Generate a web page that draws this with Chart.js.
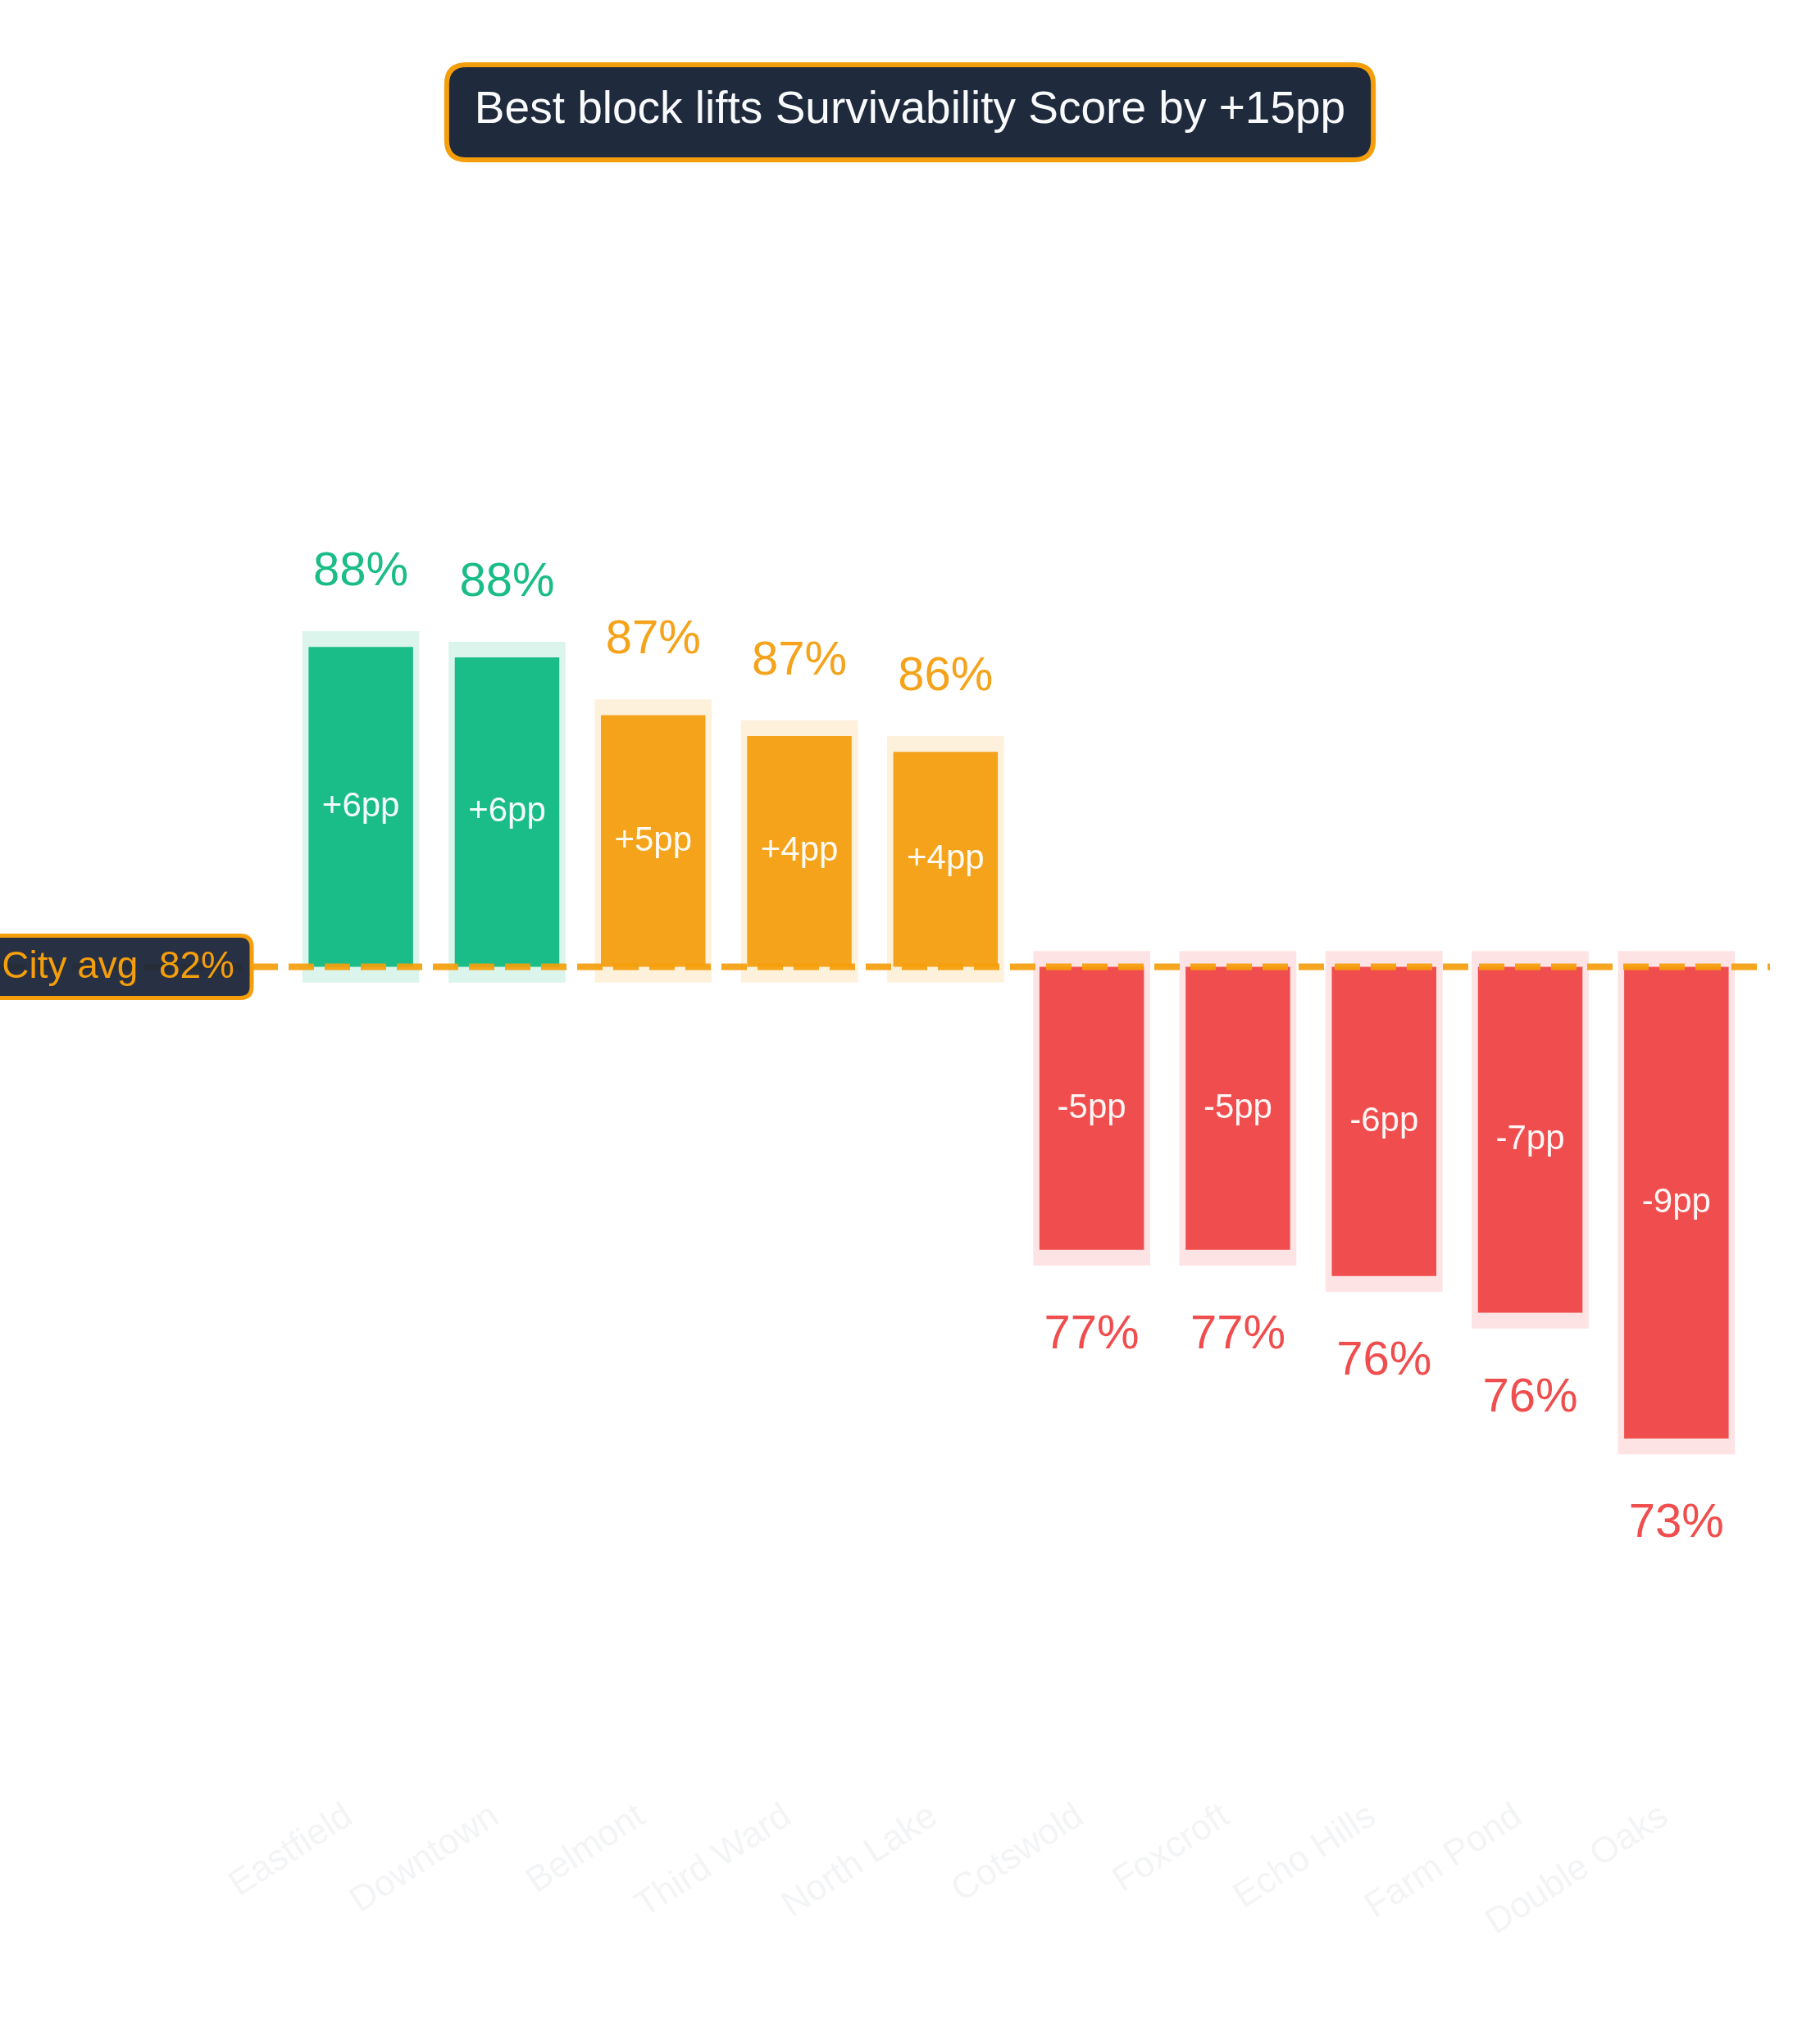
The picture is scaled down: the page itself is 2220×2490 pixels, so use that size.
<!DOCTYPE html>
<html>
<head>
<meta charset="utf-8">
<title>Survivability Score by block</title>
<script src="https://cdn.jsdelivr.net/npm/chart.js@4.4.1/dist/chart.umd.min.js"></script>
<style>
  html, body { margin: 0; padding: 0; background: #ffffff; }
  #wrap { width: 2220px; height: 2490px; position: relative; }
</style>
</head>
<body>
<div id="wrap"><canvas id="chart"></canvas></div>
<script>
// Data
const neighborhoods = ["Eastfield", "Downtown", "Belmont", "Third Ward", "North Lake",
                       "Cotswold", "Foxcroft", "Echo Hills", "Farm Pond", "Double Oaks"];
const scores = [88.4, 88.2, 87.1, 86.7, 86.4, 76.9, 76.9, 76.4, 75.7, 73.3];
const tiers = ["top", "top", "mid", "mid", "mid", "low", "low", "low", "low", "low"];
const cityAvg = 82.3;
const headline = "Best block lifts Survivability Score by +15pp";

const FONT = "'Liberation Sans', Arial, Helvetica, sans-serif";
const tierColors = { top: "#1abc87", mid: "#f4a31a", low: "#f04e4e" };
const tierHalo = { top: "rgba(16,185,129,0.15)", mid: "rgba(245,158,11,0.15)", low: "rgba(239,68,68,0.15)" };
const haloPad = 0.3;

const solidColors = tiers.map(t => tierColors[t]);
const haloColors = tiers.map(t => tierHalo[t]);
const solidData = scores.map(v => [cityAvg, v]);
const haloData = scores.map(v => v >= cityAvg ? [cityAvg - haloPad, v + haloPad] : [v - haloPad, cityAvg + haloPad]);

function fmtDelta(v) {
    const d = Math.round(v - cityAvg);
    return (d > 0 ? "+" : "") + d + "pp";
}

function roundRect(ctx, x, y, w, h, r) {
    ctx.beginPath();
    ctx.moveTo(x + r, y);
    ctx.lineTo(x + w - r, y);
    ctx.quadraticCurveTo(x + w, y, x + w, y + r);
    ctx.lineTo(x + w, y + h - r);
    ctx.quadraticCurveTo(x + w, y + h, x + w - r, y + h);
    ctx.lineTo(x + r, y + h);
    ctx.quadraticCurveTo(x, y + h, x, y + h - r);
    ctx.lineTo(x, y + r);
    ctx.quadraticCurveTo(x, y, x + r, y);
    ctx.closePath();
}

// average line, labels and the headline box
const overlayPlugin = {
    id: "overlay",
    afterDatasetsDraw(chart) {
        const ctx = chart.ctx;
        const area = chart.chartArea;
        const yAvg = chart.scales.y.getPixelForValue(cityAvg);

        // dashed city average line
        ctx.save();
        ctx.strokeStyle = "rgba(245,158,11,0.92)";
        ctx.lineWidth = 8;
        ctx.setLineDash([31, 13]);
        ctx.beginPath();
        ctx.moveTo(0, yAvg);
        ctx.lineTo(area.right + 25, yAvg);
        ctx.stroke();
        ctx.restore();

        // city avg badge
        ctx.save();
        const badgeRight = area.left - 44;
        const badgeLeft = -20;
        roundRect(ctx, badgeLeft, yAvg - 38, badgeRight - badgeLeft, 76, 14);
        ctx.fillStyle = "rgba(30,41,59,0.96)";
        ctx.fill();
        ctx.lineWidth = 5;
        ctx.strokeStyle = "#f59e0b";
        ctx.stroke();
        ctx.fillStyle = "#f59e0b";
        ctx.font = "46px " + FONT;
        ctx.textAlign = "right";
        ctx.textBaseline = "middle";
        ctx.fillText("City avg  " + Math.round(cityAvg) + "%", badgeRight - 21, yAvg + 1);
        ctx.restore();

        // bar labels
        const meta = chart.getDatasetMeta(0);
        ctx.save();
        meta.data.forEach((bar, i) => {
            const v = scores[i];
            const up = v >= cityAvg;
            ctx.textAlign = "center";
            ctx.textBaseline = "alphabetic";
            ctx.fillStyle = solidColors[i];
            ctx.font = "58px " + FONT;
            const topY = Math.min(bar.y, bar.base);
            const botY = Math.max(bar.y, bar.base);
            ctx.fillText(Math.round(v) + "%", bar.x, up ? topY - 75 : botY + 120);

            ctx.fillStyle = "rgba(255,255,255,0.95)";
            ctx.font = "42px " + FONT;
            ctx.textBaseline = "middle";
            ctx.fillText(fmtDelta(v), bar.x, (topY + botY) / 2);
        });
        ctx.restore();
    },
    afterDraw(chart) {
        const ctx = chart.ctx;
        ctx.save();
        ctx.font = "55px " + FONT;
        const tw = ctx.measureText(headline).width;
        const w = tw + 68, h = 116;
        const x = chart.width / 2 - w / 2, y = 79;
        roundRect(ctx, x, y, w, h, 24);
        ctx.fillStyle = "#1f2a3d";
        ctx.fill();
        ctx.lineWidth = 6;
        ctx.strokeStyle = "#f59e0b";
        ctx.stroke();
        ctx.fillStyle = "#f8fafc";
        ctx.textAlign = "center";
        ctx.textBaseline = "middle";
        ctx.fillText(headline, chart.width / 2, y + h / 2 - 2);
        ctx.restore();
    }
};

const ctx = document.getElementById("chart").getContext("2d");
new Chart(ctx, {
    type: "bar",
    data: {
        labels: neighborhoods,
        datasets: [
            {
                label: "Survivability Score",
                data: solidData,
                backgroundColor: solidColors,
                borderWidth: 0,
                barPercentage: 0.715,
                categoryPercentage: 1,
                grouped: false,
                order: 1
            },
            {
                label: "halo",
                data: haloData,
                backgroundColor: haloColors,
                borderWidth: 0,
                barPercentage: 0.8,
                categoryPercentage: 1,
                grouped: false,
                order: 2
            }
        ]
    },
    options: {
        responsive: true,
        maintainAspectRatio: false,
        devicePixelRatio: 1,
        animation: false,
        layout: { padding: { left: 351, right: 86, top: 300, bottom: 40 } },
        plugins: {
            legend: { display: false },
            title: { display: false },
            tooltip: { enabled: false }
        },
        scales: {
            x: {
                grid: { display: false, drawTicks: false },
                border: { display: false },
                ticks: {
                    color: "#f3f4f6",
                    font: { family: FONT, size: 44 },
                    minRotation: 33,
                    maxRotation: 33,
                    labelOffset: -14,
                    padding: 0
                },
                afterFit(scale) { scale.height = 260; }
            },
            y: {
                display: false,
                min: 66.5,
                max: 96.05
            }
        }
    },
    plugins: [overlayPlugin]
});
</script>
</body>
</html>
